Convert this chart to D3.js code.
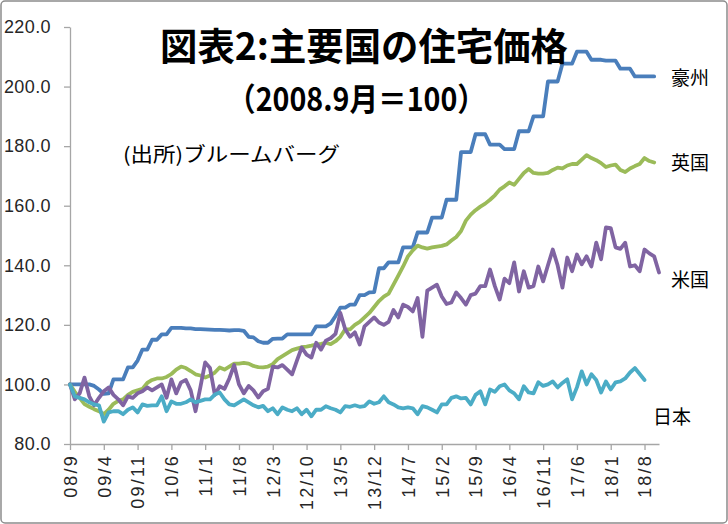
<!DOCTYPE html>
<html><head><meta charset="utf-8">
<script src="https://cdn.jsdelivr.net/npm/d3@7/dist/d3.min.js"></script>
<style>
html,body{margin:0;padding:0;background:#fff;}
svg{display:block;}
</style></head>
<body><svg id="chart" width="728" height="524"></svg>
<script>
// ---- data ----
const startYear = 2008, startMonth = 9, monthCount = 123;
const tickLabels = ["08/9","09/4","09/11","10/6","11/1","11/8","12/3","12/10","13/5","13/12","14/7","15/2","15/9","16/4","16/11","17/6","18/1","18/8"];
const yTicks = [80,100,120,140,160,180,200,220];
const seriesNames = ["豪州","英国","米国","日本"];
const seriesColors = ["#4a7ebb","#9bbb59","#8064a2","#4bacc6"];

const australia = [100,100,100,100,100,99.5,98.3,96.8,97,101.7,
101.7,101.7,105.7,105.7,108,111.7,111.7,115,115,116.8,
116.8,119,119,119,118.8,118.8,118.6,118.6,118.5,118.4,
118.3,118.3,118.2,118.1,118.2,118.2,118,116,115.8,114.5,
114,114,115.3,115.4,115.4,116.8,116.8,116.8,116.8,116.8,
116.8,119.5,119.5,119.5,120.5,123,125.8,125.8,126.8,126.8,
130,130,130.9,131,139,139,141,141,141,146,
146,146,151,151,151,156,156,156,162,162,
162,178,178,178,184,184,184,180.5,180.5,180.5,
179,179,179,185,185,185,190,190,190,201.7,
201.7,201.7,207.7,207.7,207.7,211.7,211.7,211.7,209,209,
209,208.7,208.7,208.7,206,206,206,203.4,203.4,203.4,
203.4,203.4];

const uk = [100,97.5,95.5,93.4,92.5,91.7,91,90,91.5,93.5,
94.5,95,96.5,97.5,98,98.5,100.5,101.5,102,102,
102.5,103.5,105,106,105.5,104.5,103.4,103,102.3,103,
104,105.7,105,106,107,107,107.2,107,106.2,105.8,
105.7,106,106.8,108.5,109.5,110.5,111.5,112,112.5,112.7,
113,113.4,113.6,114,113.5,114.5,116,118.5,118.5,120,
121,122.5,124,126,128,129.5,130.5,133.5,136.5,139.6,
143,145,146.6,146,145.6,146,146.3,146.5,147,148.3,
149.5,151.5,155,157,158.5,159.7,160.7,162,163.5,165.4,
166.5,167.8,167,169,171,172.3,171,170.8,170.8,171,
172,172.8,172.5,173.5,174,174,175.5,177,176,175.3,
174.3,173,173.5,173.8,172,171.3,172.5,173.3,174,176,
175,174.5];

const us = [100,95,97,102.3,96,93,95.5,97.7,99,96.5,
95,93,96,95.5,97,97.7,99,98,99,100,
95.5,101.7,97,100.7,101.5,98,91,99,107.4,105.5,
96.5,99.4,98.5,102,106.5,100,97,99.5,98,95.6,
97.7,98.5,106,105.7,106.5,105,103.4,108,112.4,110,
109,114,111.7,114.7,115.5,117,124,118.5,116,117.5,
113.4,119.5,121,122.5,120.8,120,121,125,122.5,126.8,
126,124.5,129,116,131.5,132.5,133.5,129.5,127,127.5,
130.9,129,126.8,130,130.5,133,133,138.6,133,128.5,
135.5,134,141,131.2,138,132.5,133,139.6,134.6,140,
145.3,140,132.5,142.6,138,143.6,140.3,143,139.6,147.6,
142,152.7,152.5,146,145.5,147.6,139.6,140,138,145.3,
144,143,137.6];

const japan = [100,96,95.5,95,94,93.3,93,87.5,90.6,91,
91,90,91.5,92.3,90.6,93.3,92.8,93,93,96,
91,94.3,93.5,93.5,94,95,94,94.5,95,95,
96.6,97.3,95,93.3,93,94,95,94,93,92.3,
92.8,91,92,90,92.3,91.5,91,92,90,91.5,
89.3,91.5,91.5,92.7,92,91.5,90.6,92.7,92.5,93,
92.5,92.7,94.3,93.5,94,96,94,93.3,92.3,92,
92.3,92,90,92.7,92.3,91.5,90.6,93.3,93.3,95.5,
96,95.3,95.5,93.3,96.5,97.7,93.3,98.3,97.5,99.4,
100,98,97,95,99.4,97.3,97,100.7,99.5,100,
101,99,100.5,101.7,95,99,104.4,100,103.4,101.5,
97.3,101,98.3,100.7,101,102,104,105.5,103.5,101.5];

// ---- build ----
const months = [];
for (let k = 0; k < monthCount; k++) {
  const m0 = startMonth - 1 + k;
  const yy = (startYear + Math.floor(m0 / 12)) % 100;
  const mm = (m0 % 12) + 1;
  months.push(String(yy).padStart(2, "0") + "/" + mm);
}
const series = [australia, uk, us, japan];

const svg = d3.select("#chart");
svg.append("rect").attr("x",0).attr("y",0).attr("width",728).attr("height",524).attr("fill","#fff");
svg.append("rect").attr("x",1).attr("y",1).attr("width",726).attr("height",522).attr("rx",4)
  .attr("fill","none").attr("stroke","#8c8c8c").attr("stroke-width",1.5);

const x = d3.scalePoint().domain(months).range([70, 659]);
const y = d3.scaleLinear().domain([80, 220]).range([444, 27]);

const axisFont = "'Liberation Sans', Arial, sans-serif";
const jpFont = "'Noto Sans CJK JP', 'Noto Sans', sans-serif";

// y axis
const gy = svg.append("g").attr("transform","translate(70,0)")
  .call(d3.axisLeft(y).tickValues(yTicks).tickFormat(d3.format(".1f")).tickSize(6).tickSizeOuter(0).tickPadding(13));
gy.select(".domain").attr("stroke","#a6a6a6").attr("stroke-width",1.3);
gy.selectAll(".tick line").attr("stroke","#a6a6a6").attr("stroke-width",1.3);
gy.selectAll(".tick text").attr("font-family",axisFont).attr("font-size",18).attr("fill","#262626")
  .attr("letter-spacing",0.4);

// x axis
const gx = svg.append("g").attr("transform","translate(0,444)")
  .call(d3.axisBottom(x).tickValues(tickLabels).tickSize(6).tickSizeOuter(0));
gx.select(".domain").attr("stroke","#a6a6a6").attr("stroke-width",1.3);
gx.selectAll(".tick line").attr("stroke","#a6a6a6").attr("stroke-width",1.3);
gx.selectAll(".tick text")
  .attr("font-family",axisFont).attr("font-size",18).attr("fill","#262626")
  .attr("letter-spacing",2.2)
  .attr("transform","rotate(-90)").attr("x",-10).attr("y",0).attr("dy","0.35em")
  .attr("text-anchor","end");

// lines
const line = d3.line().x((d,i) => x(months[i])).y(d => y(d)).curve(d3.curveLinear);
series.forEach((s, k) => {
  svg.append("path").datum(s).attr("d", line)
    .attr("fill","none").attr("stroke",seriesColors[k]).attr("stroke-width",3.8)
    .attr("stroke-linejoin","round").attr("stroke-linecap","round");
});

// texts
svg.append("text").attr("x",160).attr("y",60)
  .attr("font-family",jpFont).attr("font-weight","bold").attr("font-size",38).attr("fill","#000")
  .attr("textLength",408).attr("lengthAdjust","spacingAndGlyphs")
  .text("図表2:主要国の住宅価格");
svg.append("text").attr("x",227).attr("y",111)
  .attr("font-family",jpFont).attr("font-weight","bold").attr("font-size",32).attr("fill","#000")
  .attr("textLength",259).attr("lengthAdjust","spacingAndGlyphs")
  .text("（2008.9月＝100）");
svg.append("text").attr("x",123).attr("y",162)
  .attr("font-family",jpFont).attr("font-size",20).attr("fill","#000")
  .attr("textLength",217).attr("lengthAdjust","spacingAndGlyphs")
  .text("(出所)ブルームバーグ");

const labelPos = [[671,85],[671,170],[671,287],[653,424]];
seriesNames.forEach((n,k) => {
  svg.append("text").attr("x",labelPos[k][0]).attr("y",labelPos[k][1])
    .attr("font-family",jpFont).attr("font-size",19).attr("fill","#000").text(n);
});
</script></body></html>
